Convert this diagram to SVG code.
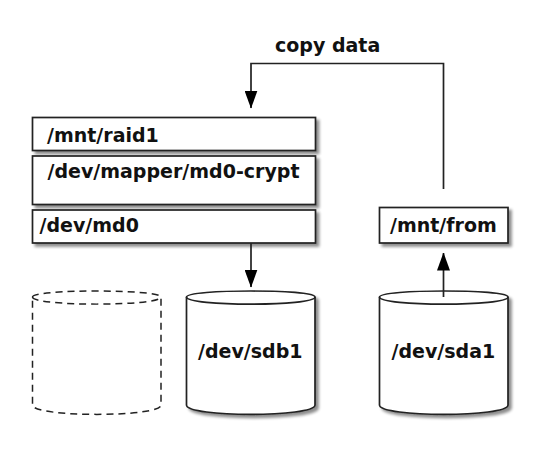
<svg xmlns="http://www.w3.org/2000/svg" width="540" height="450" viewBox="0 0 540 450">
<style>
.n{fill:#fff;stroke:#222;stroke-width:1.7}
.s{filter:url(#sh)}
.d{fill:none;stroke:#222;stroke-width:1.5;stroke-dasharray:7 5}
.c{fill:none;stroke:#222;stroke-width:1.7}
text{font-family:"DejaVu Sans",sans-serif;font-weight:bold;font-size:19px;fill:#111}
</style>
<defs>
<filter id="sh" x="-10%" y="-20%" width="120%" height="150%"><feGaussianBlur in="SourceAlpha" stdDeviation="1.800"/><feOffset dx="3" dy="3"/><feComponentTransfer><feFuncA type="linear" slope="0.45"/></feComponentTransfer><feMerge><feMergeNode/><feMergeNode in="SourceGraphic"/></feMerge></filter>
<path id="cyl" d="M0 6C0 -2 128.500 -2 128.500 6V114C128.500 126.500 0 126.500 0 114Z"/>
<path id="rim" d="M0 6C0 15.500 128.500 15.500 128.500 6"/>
<marker id="ah" markerWidth="18" markerHeight="13" refX="17.500" refY="6.500" orient="auto" markerUnits="userSpaceOnUse" viewBox="0 0 18 13"><path d="M0 0L18 6.500L0 13Z" fill="#000"/></marker>
</defs>
<g id="raid1"><rect class="n s" x="32.500" y="117.500" width="283" height="33"/><text x="47" y="142">/mnt/raid1</text></g>
<g id="crypt"><rect class="n s" x="32.500" y="156" width="283" height="48.500"/><text x="47.500" y="178">/dev/mapper/md0-crypt</text></g>
<g id="md0"><rect class="n s" x="32.500" y="210" width="283" height="33"/><text x="39.500" y="232">/dev/md0</text></g>
<g id="from"><rect class="n s" x="379.500" y="207.500" width="128.500" height="35.500"/><text x="390" y="232">/mnt/from</text></g>
<g id="empty"><g transform="translate(32.500 291)"><use href="#cyl" fill="#fff" stroke="#222" stroke-width="1.500" stroke-dasharray="7 5"/><use href="#rim" class="d"/></g></g>
<g id="sdb1"><g transform="translate(186.500 291)"><use href="#cyl" class="n s"/><use href="#rim" class="c"/></g><text x="198" y="357.500">/dev/sdb1</text></g>
<g id="sda1"><g transform="translate(379.500 291)"><use href="#cyl" class="n s"/><use href="#rim" class="c"/></g><text x="391.500" y="357.500">/dev/sda1</text></g>
<g id="connectors">
<path class="c" d="M443.500 189V63.500H251V108" marker-end="url(#ah)"/>
<path class="c" d="M251 243V287" marker-end="url(#ah)"/>
<path class="c" d="M443.500 297V253" marker-end="url(#ah)"/>
</g>
<text x="275" y="52">copy data</text>
</svg>
